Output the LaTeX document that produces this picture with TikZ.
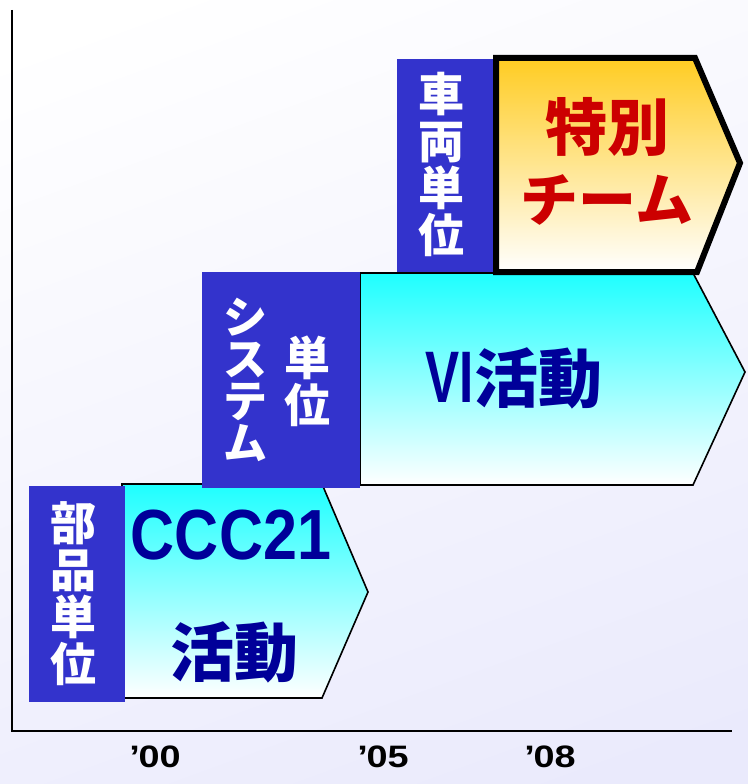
\documentclass[tikz,border=0pt]{standalone}
\usepackage{graphicx}
\usepackage{fontspec}
\setmainfont{Liberation Sans}
\newfontfamily\jp{Noto Sans CJK JP}
\definecolor{bgl}{RGB}{234,234,252}
\definecolor{boxblue}{RGB}{51,51,204}
\definecolor{txtblue}{RGB}{0,0,153}
\definecolor{txtred}{RGB}{204,0,0}
\definecolor{cyantop}{RGB}{30,255,255}
\definecolor{orangetop}{RGB}{255,204,34}
\tikzset{
  unitbox/.style={fill=boxblue, draw=none},
  unittext/.style={text=white, inner sep=0pt, align=center, font=\jp\bfseries\fontsize{46}{47}\selectfont},
  cyanshape/.style={top color=cyantop, bottom color=white, draw=black, line width=1.6pt, line join=miter},
  orangeshape/.style={top color=orangetop, bottom color=white, draw=black, line width=6pt, line join=miter},
  axisline/.style={draw=black, line width=2pt},
  bluetext/.style={text=txtblue, inner sep=0pt},
  redtext/.style={text=txtred, inner sep=0pt, font=\jp\bfseries\fontsize{62}{62}\selectfont},
  ticktext/.style={text=black, inner sep=0pt}
}
\newcommand{\yrlabel}[1]{\scalebox{1.22}[1]{\fontsize{31}{31}\selectfont\bfseries\char"0027\kern-1pt #1}}
\begin{document}
\begin{tikzpicture}[x=1pt, y=-1pt]
\useasboundingbox (0,0) rectangle (747,784);
\shade[top color=white, bottom color=bgl, shading angle=20] (-60,-60) rectangle (807,844);

% axes
\coordinate (ytop) at (11.5,10);
\coordinate (origin) at (11.5,731);
\coordinate (xend) at (732,731);
\draw[axisline] (ytop) -- (origin) -- (xend);

% level 1: CCC21
\path[cyanshape] (122,484) -- (322,484) -- (368,592) -- (322,698) -- (122,698) -- cycle;
\fill[unitbox] (29,486) rectangle (125,702);
\node[unittext] (buhin) at (73.5,594) {部\\品\\単\\位};
\node[bluetext] (ccc) at (231,535) {\scalebox{0.86}[1]{\fontsize{71}{71}\selectfont\bfseries CCC21}};
\node[bluetext, font=\jp\bfseries\fontsize{64}{64}\selectfont] (katsudo1) at (234,652) {活動};

% level 2: VI
\path[cyanshape] (360,273) -- (693,273) -- (745,372) -- (693,485) -- (360,485) -- cycle;
\fill[unitbox] (202,272) rectangle (360,488);
\node[unittext, font=\jp\bfseries\fontsize{44}{42}\selectfont] (system) at (245,380) {シ\\ス\\テ\\ム};
\node[unittext] (tani2) at (307,381) {単\\位};
\node[bluetext] (vi) at (514,378) {\scalebox{0.7}[1]{\fontsize{73}{73}\selectfont\bfseries VI}\hspace{1pt}{\jp\bfseries\fontsize{64}{64}\selectfont 活動}};

% level 3: special team
\path[orangeshape] (496,58) -- (695,58) -- (740,163) -- (697,272) -- (496,272) -- cycle;
\fill[unitbox] (397,59) rectangle (493,272);
\node[unittext] (sharyo) at (441,164) {車\\両\\単\\位};
\node[redtext] (tokubetsu) at (607,127) {特別};
\node[redtext, font=\jp\bfseries\fontsize{58}{58}\selectfont] (team) at (607,200) {チーム};

% ticks
\node[ticktext] (t00) at (155,757) {\yrlabel{00}};
\node[ticktext] (t05) at (383,757) {\yrlabel{05}};
\node[ticktext] (t08) at (550,757) {\yrlabel{08}};
\end{tikzpicture}
\end{document}
